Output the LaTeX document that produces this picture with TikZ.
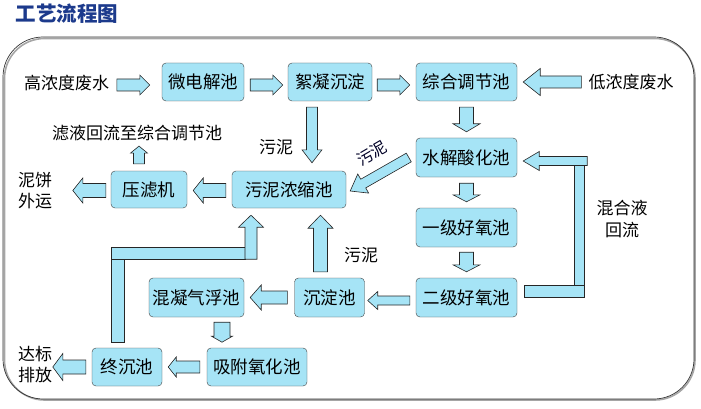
\documentclass[tikz,border=0pt]{standalone}
\usepackage{fontspec}
\newfontfamily\cjk{Noto Sans CJK SC}
\usetikzlibrary{calc}
\definecolor{boxc}{RGB}{166,228,246}
\definecolor{titc}{RGB}{28,58,140}
\newcommand\barrow[5]{%
 \coordinate (bA) at #1; \coordinate (bB) at #2;
 \coordinate (bC) at ($(bB)!#5!(bA)$);
 \draw[barr] ($(bA)!#3!90:(bB)$) -- ($(bC)!#3!90:(bB)$) -- ($(bC)!#4!90:(bB)$) -- (bB) -- ($(bC)!#4!-90:(bB)$) -- ($(bC)!#3!-90:(bB)$) -- ($(bA)!#3!-90:(bB)$) -- cycle;}
\begin{document}
\begin{tikzpicture}[x=1pt,y=-1pt,
  box/.style={draw=black!75, fill=boxc, rounded corners=4pt, minimum height=38pt, inner sep=0pt, font=\cjk\fontsize{17.5}{18}\selectfont},
  lab/.style={inner sep=0pt, font=\cjk\fontsize{17}{18}\selectfont},
  barr/.style={draw=black!85, fill=boxc, line width=0.6pt, line join=miter},
  rbar/.style={draw=black!85, fill=boxc, line width=0.6pt}]
\useasboundingbox (0,0) rectangle (701,409);
% frame
\draw[gray!70, line width=1.6pt, rounded corners=40pt] (4.5,38.5) rectangle (695,400);
\draw[black!80, line width=0.7pt, rounded corners=40pt] (3,37) rectangle (694,399);
% title
\node[inner sep=0pt, font=\cjk\bfseries\fontsize{20.5}{22}\selectfont, text=titc] (title) at (67,14) {工艺流程图};
% boxes
\node[box, minimum width=82pt] (mdj) at (203,82) {微电解池};
\node[box, minimum width=84pt] (xnc) at (330,82) {絮凝沉淀};
\node[box, minimum width=101pt] (zh) at (466.5,82) {综合调节池};
\node[box, minimum width=101pt, minimum height=39pt] (sj) at (466.5,157.5) {水解酸化池};
\node[box, minimum width=101pt, minimum height=39pt] (yj) at (466.5,227.5) {一级好氧池};
\node[box, minimum width=101pt, minimum height=39pt] (ej) at (466.5,297.5) {二级好氧池};
\node[box, minimum width=70pt, minimum height=39pt] (cd) at (329.5,297.5) {沉淀池};
\node[box, minimum width=95pt, minimum height=39pt] (hn) at (196.5,297.5) {混凝气浮池};
\node[box, minimum width=100pt] (xf) at (257,367) {吸附氧化池};
\node[box, minimum width=70pt] (zc) at (127,367) {终沉池};
\node[box, minimum width=114pt, minimum height=37pt] (wn) at (289,189.5) {污泥浓缩池};
\node[box, minimum width=76pt, minimum height=37pt] (ylj) at (149,189.5) {压滤机};
% labels
\node[lab] (hw) at (66.5,83) {高浓度废水};
\node[lab] (lw) at (631,82) {低浓度废水};
\node[lab] (ly) at (137,133) {滤液回流至综合调节池};
\node[lab] (wn1) at (276,147) {污泥};
\node[lab, rotate=30, text=black!85!blue, font=\cjk\fontsize{16}{17}\selectfont] (wn2) at (372,153) {污泥};
\node[lab] (nb1) at (35,180) {泥饼};
\node[lab] (nb2) at (35,201) {外运};
\node[lab] (wn3) at (361,255) {污泥};
\node[lab] (hh1) at (622,208) {混合液};
\node[lab] (hh2) at (622,230) {回流};
\node[lab] (db1) at (35,354) {达标};
\node[lab] (db2) at (35,375) {排放};
% horizontal arrows
\barrow{($(mdj.west)+(-45,3)$)}{($(mdj.west)+(-12,3)$)}{6pt}{10pt}{10pt}
\barrow{($(mdj.east)+(6,3)$)}{($(xnc.west)+(-5,3)$)}{6pt}{10pt}{10pt}
\barrow{($(xnc.east)+(5,3)$)}{($(zh.west)+(-6,3)$)}{6pt}{10pt}{10pt}
\barrow{($(lw.west)+(-7,0)$)}{($(zh.east)+(6,0)$)}{6pt}{13.5pt}{17pt}
% vertical main line
\barrow{($(zh.south)+(0,6)$)}{($(sj.north)+(0,-6)$)}{7pt}{13.5pt}{8pt}
\barrow{($(sj.south)+(0,6)$)}{($(yj.north)+(0,-6)$)}{7pt}{13.5pt}{7pt}
\barrow{($(yj.south)+(0,5)$)}{($(ej.north)+(0,-6)$)}{7pt}{13.5pt}{7pt}
\barrow{($(ej.west)+(-6,3)$)}{($(cd.east)+(3,3)$)}{4.5pt}{9pt}{10pt}
\barrow{($(cd.west)+(-7,0)$)}{($(hn.east)+(6,0)$)}{6.5pt}{12.5pt}{11pt}
\barrow{($(hn.south)+(25.5,5)$)}{($(hn.south)+(25.5,25)$)}{8pt}{10.5pt}{6pt}
\barrow{($(xf.west)+(-7,0)$)}{($(zc.east)+(6,0)$)}{6pt}{10pt}{8pt}
\barrow{($(zc.west)+(-6,0)$)}{($(zc.west)+(-39,0)$)}{7pt}{13.5pt}{10pt}
% sludge arrows
\barrow{($(cd.north)+(-9,-6)$)}{($(wn.south)+(31.5,7)$)}{7pt}{12.5pt}{13pt}
\barrow{($(xnc.south)+(-18,6)$)}{($(wn.north)+(23,-8)$)}{5.5pt}{10pt}{13pt}
\barrow{($(ylj.north)+(-10,-7)$)}{($(ly.south)+(2,5)$)}{5.5pt}{8.5pt}{7pt}
\barrow{($(wn.west)+(-6,1)$)}{($(ylj.east)+(6,1)$)}{7pt}{12.5pt}{10pt}
\barrow{($(ylj.west)+(-5,1)$)}{($(ylj.west)+(-38,1)$)}{7pt}{12.5pt}{10pt}
\barrow{($(sj.west)+(-7,0)$)}{($(wn.east)+(4,1.5)$)}{5pt}{11pt}{15pt}
% L-shaped return from final clarifier
\draw[rbar] (111,259) rectangle (124,342);
\draw[rbar] (111,247) rectangle (245,259);
\barrow{($(wn.south)+(-38,51)$)}{($(wn.south)+(-38,7)$)}{6pt}{12.5pt}{12pt}
% mixed liquor return
\draw[rbar] (524,285) rectangle (584,297);
\draw[rbar] (574,165) rectangle (584,285);
\barrow{($(sj.east)+(70,3.5)$)}{($(sj.east)+(6,3.5)$)}{4.5pt}{9.5pt}{16pt}
\end{tikzpicture}
\end{document}
